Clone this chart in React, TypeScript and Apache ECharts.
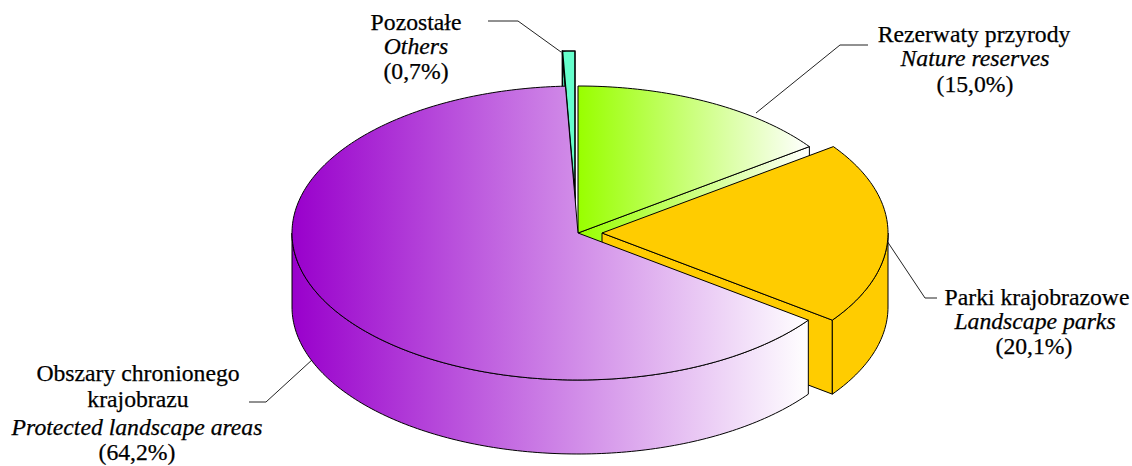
import React, { useEffect, useRef } from "react";
import * as echarts from "echarts";

const categories = ["Rezerwaty przyrody", "Parki krajobrazowe", "Obszary chronionego krajobrazu", "Pozostałe"];
const values = [15.0, 20.1, 64.2, 0.7];
const englishNames = ["Nature reserves", "Landscape parks", "Protected landscape areas", "Others"];

// Layout of the pseudo-3D pie
const CX = 578;
const CY = 233;
const RX = 286;
const RY = 147;
const DEPTH = 74;
const explodeX = [0, 24, 0, -3];
const explodeY = [0, 0, 0, -35];
const drawOrder = [1, 2, 4, 3];
const FONT = '23.7px "Liberation Serif"';
const FONT_IT = 'italic 23.7px "Liberation Serif"';

function fillFor(i: number) {
  if (i === 0)
    return new echarts.graphic.LinearGradient(579, 0, 809, 0, [
      { offset: 0, color: "#99FF00" },
      { offset: 1, color: "#FFFFFF" },
    ], true);
  if (i === 1) return "#FFCC00";
  if (i === 2)
    return new echarts.graphic.LinearGradient(292, 0, 809, 0, [
      { offset: 0, color: "#9900CC" },
      { offset: 1, color: "#FFFFFF" },
    ], true);
  return "#66FFCC";
}

function renderItem(_params: any, api: any) {
  const value = api.value(0);
  const cum = api.value(1);
  const i = api.value(2);
  const a0 = (cum / 100) * Math.PI * 2;
  const a1 = ((cum + value) / 100) * Math.PI * 2;
  const cx = CX + explodeX[i];
  const cy = CY + explodeY[i];
  const pt = (t: number, dy = 0) => [cx + RX * Math.sin(t), cy - RY * Math.cos(t) + dy];
  const arc = (from: number, to: number, dy = 0) => {
    const n = Math.max(2, Math.ceil((Math.abs(to - from) * 180) / Math.PI));
    const out: number[][] = [];
    for (let k = 0; k <= n; k++) out.push(pt(from + ((to - from) * k) / n, dy));
    return out;
  };
  const fill = fillFor(i);
  const z = drawOrder[i] * 10;
  const width = i === 3 ? 1.6 : 1;
  const poly = (points: number[][], n: number) => ({
    type: "polygon",
    z2: z + n,
    shape: { points },
    style: { fill, stroke: "#000000", lineWidth: width, lineJoin: "round" },
    silent: true,
  });
  const children: any[] = [];
  // the cut face that looks to the viewer
  if (i !== 2) {
    const p = pt(i === 3 ? a0 : a1);
    children.push(poly([[cx, cy], p, [p[0], p[1] + DEPTH], [cx, cy + DEPTH]], 0));
  }
  // outer wall, only its front half shows
  const wallFrom = Math.max(a0, Math.PI / 2);
  const wallTo = Math.min(a1, (Math.PI * 3) / 2);
  if (wallTo > wallFrom) {
    children.push(poly([...arc(wallFrom, wallTo), ...arc(wallTo, wallFrom, DEPTH)], 1));
  }
  // top face
  children.push(poly([[cx, cy], ...arc(a0, a1)], 2));
  return { type: "group", children };
}

function App() {
  const ref = useRef<HTMLDivElement>(null);
  useEffect(() => {
    document.body.style.margin = "0";
    const chart = echarts.init(ref.current!, null, { renderer: "svg" });
    let cum = 0;
    const data = values.map((v, i) => {
      const row = [v, cum, i];
      cum += v;
      return row;
    });
    const pct = (i: number) => `(${values[i].toFixed(1).replace(".", ",")}%)`;
    const text = (t: string, x: number, y: number, font = FONT) => ({
      type: "text",
      x,
      y,
      silent: true,
      style: {
        text: t,
        font,
        fill: "#000000",
        stroke: "#000000",
        lineWidth: 0.25,
        align: "center",
        verticalAlign: "middle",
        textAlign: "center",
        textVerticalAlign: "middle",
      },
    });
    const leader = (points: number[][]) => ({
      type: "polyline",
      silent: true,
      shape: { points },
      style: { stroke: "#222222", lineWidth: 1, fill: "none" },
    });
    chart.setOption({
      animation: false,
      backgroundColor: "#ffffff",
      series: [
        {
          type: "custom",
          coordinateSystem: "none",
          renderItem,
          data,
          silent: true,
        },
      ],
      graphic: [
        leader([[488, 21], [518, 21], [561, 52]]),
        leader([[868, 45], [840, 45], [756, 113]]),
        leader([[937, 298], [925, 298], [887, 241]]),
        leader([[249, 402], [266, 402], [313, 359]]),
        text(categories[3], 416, 22),
        text(englishNames[3], 416, 46, FONT_IT),
        text(pct(3), 416, 71),
        text(categories[0], 974, 34),
        text(englishNames[0], 975, 58, FONT_IT),
        text(pct(0), 975, 84),
        text(categories[1], 1037, 297),
        text(englishNames[1], 1035, 321, FONT_IT),
        text(pct(1), 1034, 346),
        text("Obszary chronionego", 138, 373),
        text("krajobrazu", 138, 399),
        text(englishNames[2], 137, 427, FONT_IT),
        text(pct(2), 137, 452),
      ],
    });
    return () => chart.dispose();
  }, []);
  return <div ref={ref} style={{ position: "fixed", left: 0, top: 0, width: 1132, height: 466 }} />;
}

export default App;
